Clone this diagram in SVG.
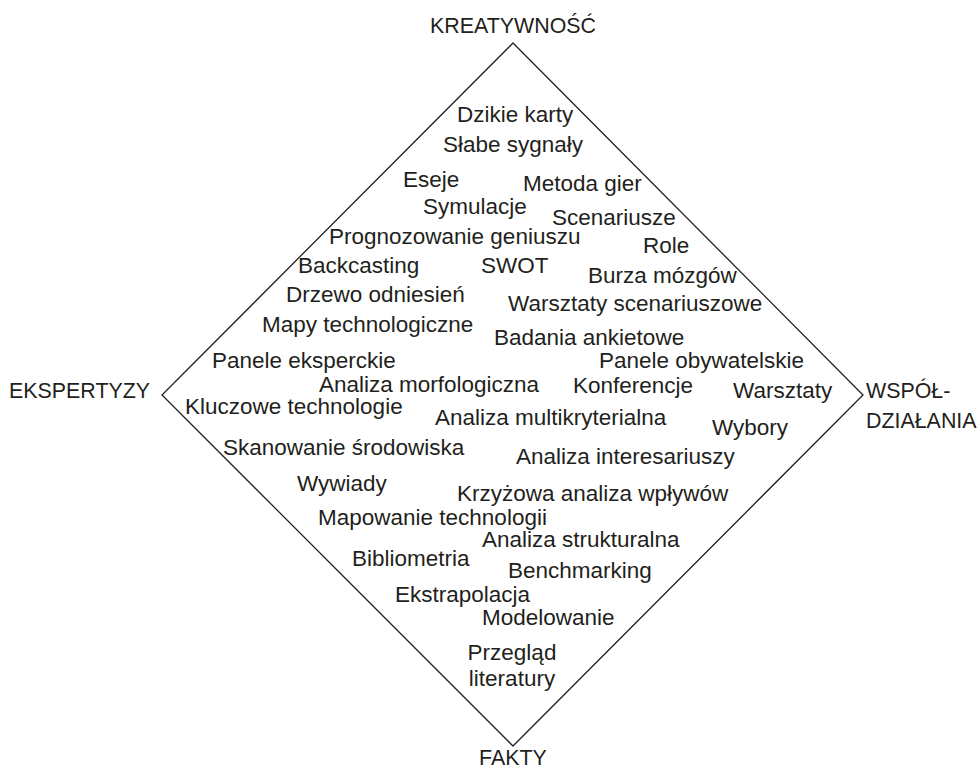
<svg xmlns="http://www.w3.org/2000/svg" width="980" height="769" viewBox="0 0 980 769">
<style>
text{font-family:"Liberation Sans",Arial,Helvetica,sans-serif;fill:#231f20}
.m{font-size:22.5px}
.a{font-size:21.4px}
.c{text-anchor:middle}
.d{fill:none;stroke:#231f20;stroke-width:1.3}
</style>
<rect width="980" height="769" fill="#fff"/>
<g id="connectors">
<polygon class="d" points="513,43 863,395 513,746 162,395"/>
</g>
<g id="axis-top"><text class="a c" x="513" y="33">KREATYWNOŚĆ</text></g>
<g id="axis-left"><text class="a" x="9" y="398">EKSPERTYZY</text></g>
<g id="axis-right"><text class="a" x="866" y="398">WSPÓŁ-</text><text class="a" x="866" y="428">DZIAŁANIA</text></g>
<g id="axis-bottom"><text class="a c" x="513" y="765">FAKTY</text></g>
<g id="n1"><text class="m" x="457" y="122">Dzikie karty</text></g>
<g id="n2"><text class="m" x="443" y="152">Słabe sygnały</text></g>
<g id="n3"><text class="m" x="403" y="187">Eseje</text></g>
<g id="n4"><text class="m" x="523" y="191">Metoda gier</text></g>
<g id="n5"><text class="m" x="423" y="214">Symulacje</text></g>
<g id="n6"><text class="m" x="552" y="225">Scenariusze</text></g>
<g id="n7"><text class="m" x="329" y="244">Prognozowanie geniuszu</text></g>
<g id="n8"><text class="m" x="643" y="253">Role</text></g>
<g id="n9"><text class="m" x="298" y="273">Backcasting</text></g>
<g id="n10"><text class="m" x="481" y="273">SWOT</text></g>
<g id="n11"><text class="m" x="588" y="283">Burza mózgów</text></g>
<g id="n12"><text class="m" x="286" y="302">Drzewo odniesień</text></g>
<g id="n13"><text class="m" x="508" y="311">Warsztaty scenariuszowe</text></g>
<g id="n14"><text class="m" x="262" y="332">Mapy technologiczne</text></g>
<g id="n15"><text class="m" x="494" y="345">Badania ankietowe</text></g>
<g id="n16"><text class="m" x="212" y="368">Panele eksperckie</text></g>
<g id="n17"><text class="m" x="599" y="368">Panele obywatelskie</text></g>
<g id="n18"><text class="m" x="319" y="392">Analiza morfologiczna</text></g>
<g id="n19"><text class="m" x="573" y="393">Konferencje</text></g>
<g id="n20"><text class="m" x="733" y="398">Warsztaty</text></g>
<g id="n21"><text class="m" x="185" y="414">Kluczowe technologie</text></g>
<g id="n22"><text class="m" x="435" y="425">Analiza multikryterialna</text></g>
<g id="n23"><text class="m" x="712" y="435">Wybory</text></g>
<g id="n24"><text class="m" x="223" y="455">Skanowanie środowiska</text></g>
<g id="n25"><text class="m" x="516" y="464">Analiza interesariuszy</text></g>
<g id="n26"><text class="m" x="297" y="491">Wywiady</text></g>
<g id="n27"><text class="m" x="457" y="501">Krzyżowa analiza wpływów</text></g>
<g id="n28"><text class="m" x="318" y="525">Mapowanie technologii</text></g>
<g id="n29"><text class="m" x="482" y="547">Analiza strukturalna</text></g>
<g id="n30"><text class="m" x="352" y="566">Bibliometria</text></g>
<g id="n31"><text class="m" x="508" y="578">Benchmarking</text></g>
<g id="n32"><text class="m" x="395" y="602">Ekstrapolacja</text></g>
<g id="n33"><text class="m" x="482" y="625">Modelowanie</text></g>
<g id="n34"><text class="m c" x="512" y="660">Przegląd</text><text class="m c" x="512" y="686">literatury</text></g>
</svg>
